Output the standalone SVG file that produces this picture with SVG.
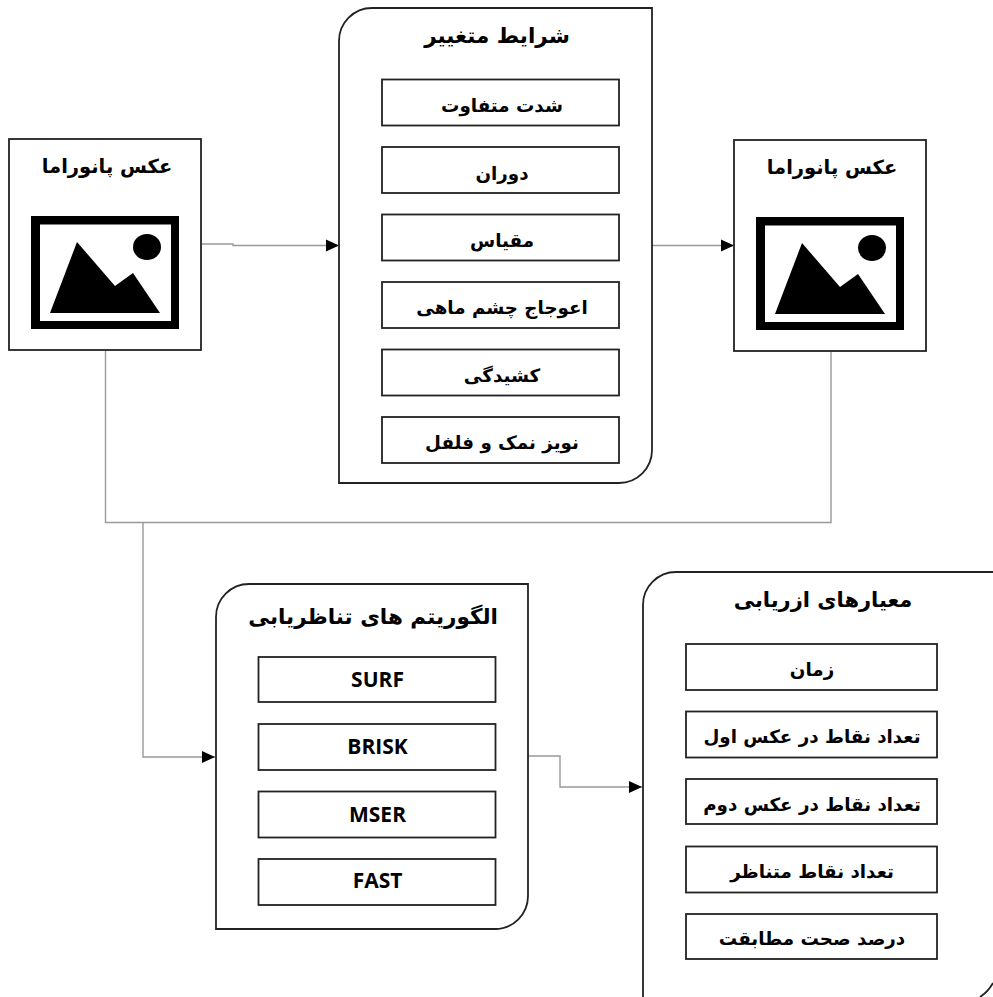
<svg xmlns="http://www.w3.org/2000/svg" width="993" height="997" viewBox="0 0 993 997">
<style>
.b{fill:#fff;stroke:#222;stroke-width:1.8}
.c{fill:none;stroke:#999;stroke-width:1.4}
text{font-family:"DejaVu Sans",sans-serif;font-size:18.3px;font-weight:bold;fill:#000;text-anchor:middle;direction:rtl}
.t{font-size:21.5px}
.p{font-size:19.5px}
.l{font-family:"Open Sans","Liberation Sans",sans-serif;font-size:21px;direction:ltr}
</style>
<defs>
<marker id="a" markerUnits="userSpaceOnUse" markerWidth="14" markerHeight="14" refX="13" refY="7" orient="auto"><path d="M0 1L13 7L0 13Z" fill="#000"/></marker>
<g id="pic"><path d="M0 0H148V113H0ZM9 8.500V105H140V8.500Z" fill="#000" fill-rule="evenodd"/><path d="M19 97L46 26L84 70L102 57L129 97Z" fill="#000"/><ellipse cx="116" cy="31" rx="14" ry="13" fill="#000"/></g>
</defs>
<g id="connectors">
<path class="c" d="M202 244H233V245.500H339" marker-end="url(#a)"/>
<path class="c" d="M652 245.500H734" marker-end="url(#a)"/>
<path class="c" d="M105.500 351V522.500H831V352"/>
<path class="c" d="M143 522.500V757H215" marker-end="url(#a)"/>
<path class="c" d="M528 756H560V787H642" marker-end="url(#a)"/>
</g>
<g id="n1"><rect class="b" x="9" y="139" width="192" height="211"/><text class="p" x="107" y="173">عکس پانوراما</text><use href="#pic" x="31" y="216"/></g>
<g id="n2"><rect class="b" x="734" y="140" width="192" height="211"/><text class="p" x="832" y="174">عکس پانوراما</text><use href="#pic" x="756" y="217"/></g>
<g id="n3"><path class="b" d="M339 41A33 33 0 0 1 372 8H652V450A33 33 0 0 1 619 483H339Z"/><text class="t" x="497" y="43">شرایط متغییر</text>
<rect class="b" x="382" y="79.500" width="237" height="46"/><text x="502" y="112">شدت متفاوت</text>
<rect class="b" x="382" y="147" width="237" height="46"/><text x="502" y="180">دوران</text>
<rect class="b" x="382" y="214.500" width="237" height="46"/><text x="502" y="247">مقیاس</text>
<rect class="b" x="382" y="282" width="237" height="46"/><text x="502" y="314">اعوجاج چشم ماهی</text>
<rect class="b" x="382" y="349.500" width="237" height="46"/><text x="502" y="382">کشیدگی</text>
<rect class="b" x="382" y="417" width="237" height="46"/><text x="502" y="449">نویز نمک و فلفل</text></g>
<g id="n4"><path class="b" d="M216 617A33 33 0 0 1 249 584H528V896A33 33 0 0 1 495 929H216Z"/><text class="t" x="373" y="624">الگوریتم های تناظریابی</text>
<rect class="b" x="258.500" y="657" width="237" height="45"/><text class="l" x="377.500" y="687">SURF</text>
<rect class="b" x="258.500" y="724" width="237" height="46"/><text class="l" x="377.500" y="754">BRISK</text>
<rect class="b" x="258.500" y="791.500" width="237" height="46"/><text class="l" x="377.500" y="822">MSER</text>
<rect class="b" x="258.500" y="859" width="237" height="46"/><text class="l" x="377.500" y="888">FAST</text></g>
<g id="n5"><path class="b" d="M643 1000V605A33 33 0 0 1 676 572H1000V1000Z"/><path d="M980 997Q988 992 993 983" fill="none" stroke="#222" stroke-width="1.8"/><text class="t" x="823" y="607" style="font-size:21px">معیارهای ازریابی</text>
<rect class="b" x="686" y="644" width="251" height="46"/><text x="812" y="676">زمان</text>
<rect class="b" x="686" y="711.500" width="251" height="46"/><text x="812" y="743">تعداد نقاط در عکس اول</text>
<rect class="b" x="686" y="779" width="251" height="45"/><text x="812" y="811">تعداد نقاط در عکس دوم</text>
<rect class="b" x="686" y="846.500" width="251" height="46"/><text x="812" y="878">تعداد نقاط متناظر</text>
<rect class="b" x="686" y="914" width="251" height="45"/><text x="812" y="945">درصد صحت مطابقت</text></g>
</svg>
